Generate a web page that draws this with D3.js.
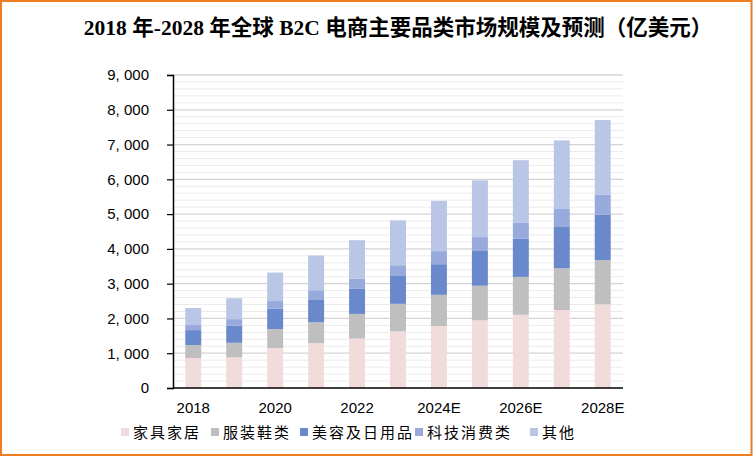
<!DOCTYPE html>
<html>
<head>
<meta charset="utf-8">
<script src="https://cdn.jsdelivr.net/npm/d3@7/dist/d3.min.js"></script>
<style>
  html, body { margin: 0; padding: 0; background: #fff; }
  svg { display: block; }
</style>
</head>
<body>
<svg id="chart" width="753" height="457"></svg>
<script>
const years = ["2018","2019","2020","2021","2022","2023","2024E","2025E","2026E","2027E","2028E"];
const tickYears = ["2018","2020","2022","2024E","2026E","2028E"];
const seriesNames = ["家具家居","服装鞋类","美容及日用品","科技消费类","其他"];
const home    = [860, 880, 1150, 1290, 1420, 1630, 1780, 1945, 2105, 2240, 2405];
const apparel = [375, 420, 545, 600, 710, 790, 900, 995, 1090, 1200, 1275];
const beauty  = [430, 490, 585, 660, 720, 800, 880, 1000, 1095, 1190, 1300];
const tech    = [145, 190, 220, 260, 290, 310, 375, 400, 470, 535, 585];
const other   = [490, 600, 820, 1000, 1110, 1290, 1445, 1630, 1790, 1955, 2140];
const yTicks  = [0,1000,2000,3000,4000,5000,6000,7000,8000,9000];
const colors  = ["#f2dcdb","#bfbfbf","#6a89cc","#98aadb","#b9c6e6"];

const seriesValues = [home, apparel, beauty, tech, other];
const table = years.map((y, i) => {
  const row = { year: y };
  seriesNames.forEach((s, k) => row[s] = seriesValues[k][i]);
  return row;
});

const svg = d3.select("#chart");
const W = 753, H = 457;
const m = { left: 173, right: 130, top: 75, bottom: 69 };
const iw = W - m.left - m.right, ih = H - m.top - m.bottom;

// border
svg.append("rect").attr("x", 1).attr("y", 1).attr("width", W - 2.5).attr("height", H - 3)
  .attr("fill", "#fff").attr("stroke", "#ed7d1f").attr("stroke-width", 2);

// title
svg.append("text").attr("x", 398).attr("y", 35).attr("text-anchor", "middle")
  .attr("font-family", "'Liberation Serif','Noto Sans CJK SC',serif")
  .attr("font-size", 21.5).attr("font-weight", "bold").attr("fill", "#000")
  .text("2018 年-2028 年全球 B2C 电商主要品类市场规模及预测（亿美元）");

const g = svg.append("g").attr("transform", `translate(${m.left},${m.top})`);
const x = d3.scaleBand().domain(years).range([0, iw]).paddingInner(0.61).paddingOuter(0.3);
const y = d3.scaleLinear().domain([0, 9000]).range([ih, 0]);

// gridlines minor
const minor = d3.range(200, 9001, 200).filter(v => v % 1000 !== 0);
g.append("g").selectAll("line").data(minor).join("line")
  .attr("x1", 0).attr("x2", iw).attr("y1", d => y(d)).attr("y2", d => y(d))
  .attr("stroke", "#ebebeb").attr("stroke-width", 1);
g.append("g").selectAll("line").data(yTicks.slice(1)).join("line")
  .attr("x1", 0).attr("x2", iw).attr("y1", d => y(d)).attr("y2", d => y(d))
  .attr("stroke", "#d4d4d4").attr("stroke-width", 1.3);

// stacks
const stack = d3.stack().keys(seriesNames)(table);
g.append("g").selectAll("g").data(stack).join("g")
  .attr("fill", (d, i) => colors[i])
  .selectAll("rect").data(d => d).join("rect")
  .attr("x", d => x(d.data.year))
  .attr("width", x.bandwidth())
  .attr("y", d => y(d[1]))
  .attr("height", d => y(d[0]) - y(d[1]));

// y axis
const yAxis = d3.axisLeft(y).tickValues(yTicks).tickSize(6).tickPadding(18)
  .tickFormat(d => d3.format(",")(d).replace(",", ", "));
const ya = g.append("g").call(yAxis);
ya.select(".domain").attr("stroke", "#000").attr("stroke-width", 1.5);
ya.selectAll(".tick line").attr("stroke", "#000").attr("stroke-width", 1.2);
ya.selectAll(".tick text").attr("font-family", "'Liberation Sans',Arial,sans-serif")
  .attr("font-size", 15).attr("fill", "#000");

// x axis
const xAxis = d3.axisBottom(x).tickValues(tickYears).tickSize(0).tickPadding(14);
const xa = g.append("g").attr("transform", `translate(0,${ih})`).call(xAxis);
xa.select(".domain").attr("stroke", "#000").attr("stroke-width", 1.5).attr("d", `M0,0H${iw}`);
xa.selectAll(".tick text").attr("font-family", "'Liberation Sans',Arial,sans-serif")
  .attr("font-size", 15).attr("fill", "#000");

// legend
const legendX = [121, 211, 300, 415, 530];
const lg = svg.append("g");
seriesNames.forEach((s, i) => {
  lg.append("rect").attr("x", legendX[i]).attr("y", 428).attr("width", 8).attr("height", 8).attr("fill", colors[i]);
  lg.append("text").attr("x", legendX[i] + 12).attr("y", 438)
    .attr("font-family", "'Noto Sans CJK SC',sans-serif").attr("font-size", 15)
    .attr("letter-spacing", 2).attr("fill", "#000").text(s);
});
</script>
</body>
</html>
